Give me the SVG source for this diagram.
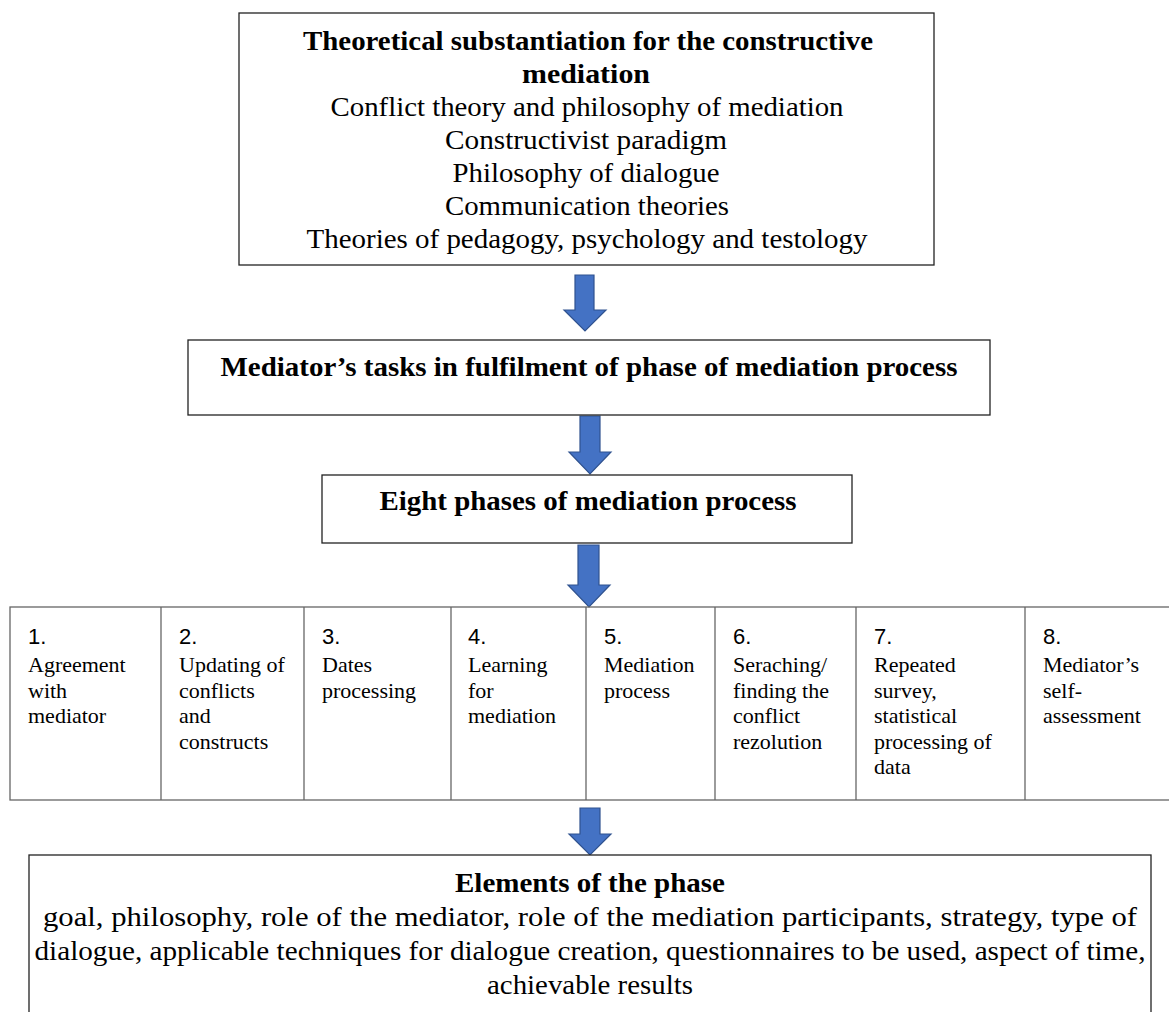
<svg xmlns="http://www.w3.org/2000/svg" width="1169" height="1012" viewBox="0 0 1169 1012">
<defs>
<style>
.box{fill:#fff;stroke:#222;stroke-width:1.3}
.cell{fill:none;stroke:#666;stroke-width:1.3}
.arrow{fill:#4472C4;stroke:#2F528F;stroke-width:1.2}
.t{font-family:"Liberation Serif","Times New Roman",serif;font-size:28px;fill:#000;text-anchor:middle}
.b{font-weight:bold}
.num{font-family:"Liberation Sans",Arial,sans-serif;font-size:22px;fill:#000}
.c{font-family:"Liberation Serif","Times New Roman",serif;font-size:22px;fill:#000}
</style>
</defs>
<rect width="1169" height="1012" fill="#fff"/>

<g id="connectors">
<path class="arrow" d="M575,275 H594 V310 H606 L585,331 L564,310 H575 Z"/>
<path class="arrow" d="M580,416 H600 V452 H611 L590,474 L569,452 H580 Z"/>
<path class="arrow" d="M578,545 H599 V585 H610 L589,607 L568,585 H578 Z"/>
<path class="arrow" d="M580,808 H600 V834 H611 L590,855 L569,834 H580 Z"/>
</g>

<g id="theory">
<rect class="box" x="239" y="13" width="695" height="252"/>
<text class="t b" x="588" y="50" textLength="570" lengthAdjust="spacingAndGlyphs">Theoretical substantiation for the constructive</text>
<text class="t b" x="586" y="83" textLength="128" lengthAdjust="spacingAndGlyphs">mediation</text>
<text class="t" x="587" y="116" textLength="513" lengthAdjust="spacingAndGlyphs">Conflict theory and philosophy of mediation</text>
<text class="t" x="586" y="149" textLength="282" lengthAdjust="spacingAndGlyphs">Constructivist paradigm</text>
<text class="t" x="586" y="182" textLength="267" lengthAdjust="spacingAndGlyphs">Philosophy of dialogue</text>
<text class="t" x="587" y="215" textLength="284" lengthAdjust="spacingAndGlyphs">Communication theories</text>
<text class="t" x="587" y="248" textLength="561" lengthAdjust="spacingAndGlyphs">Theories of pedagogy, psychology and testology</text>
</g>

<g id="tasks">
<rect class="box" x="188" y="340" width="802" height="75"/>
<text class="t b" x="589" y="376" textLength="737" lengthAdjust="spacingAndGlyphs">Mediator’s tasks in fulfilment of phase of mediation process</text>
</g>

<g id="eight">
<rect class="box" x="322" y="475" width="530" height="68"/>
<text class="t b" x="588" y="510" textLength="417" lengthAdjust="spacingAndGlyphs">Eight phases of mediation process</text>
</g>

<g id="phases">
<rect class="cell" x="10" y="607" width="1170" height="193"/>
<line class="cell" x1="161" y1="607" x2="161" y2="800"/>
<line class="cell" x1="304" y1="607" x2="304" y2="800"/>
<line class="cell" x1="451" y1="607" x2="451" y2="800"/>
<line class="cell" x1="586" y1="607" x2="586" y2="800"/>
<line class="cell" x1="715" y1="607" x2="715" y2="800"/>
<line class="cell" x1="856" y1="607" x2="856" y2="800"/>
<line class="cell" x1="1025" y1="607" x2="1025" y2="800"/>
</g>

<g id="phase1">
<text class="num" x="28" y="644">1.</text>
<text class="c" x="28" y="672">Agreement</text>
<text class="c" x="28" y="698">with</text>
<text class="c" x="28" y="723">mediator</text>
</g>
<g id="phase2">
<text class="num" x="179" y="644">2.</text>
<text class="c" x="179" y="672">Updating of</text>
<text class="c" x="179" y="698">conflicts</text>
<text class="c" x="179" y="723">and</text>
<text class="c" x="179" y="749">constructs</text>
</g>
<g id="phase3">
<text class="num" x="322" y="644">3.</text>
<text class="c" x="322" y="672">Dates</text>
<text class="c" x="322" y="698">processing</text>
</g>
<g id="phase4">
<text class="num" x="468" y="644">4.</text>
<text class="c" x="468" y="672">Learning</text>
<text class="c" x="468" y="698">for</text>
<text class="c" x="468" y="723">mediation</text>
</g>
<g id="phase5">
<text class="num" x="604" y="644">5.</text>
<text class="c" x="604" y="672">Mediation</text>
<text class="c" x="604" y="698">process</text>
</g>
<g id="phase6">
<text class="num" x="733" y="644">6.</text>
<text class="c" x="733" y="672">Seraching/</text>
<text class="c" x="733" y="698">finding the</text>
<text class="c" x="733" y="723">conflict</text>
<text class="c" x="733" y="749">rezolution</text>
</g>
<g id="phase7">
<text class="num" x="874" y="644">7.</text>
<text class="c" x="874" y="672">Repeated</text>
<text class="c" x="874" y="698">survey,</text>
<text class="c" x="874" y="723">statistical</text>
<text class="c" x="874" y="749">processing of</text>
<text class="c" x="874" y="774">data</text>
</g>
<g id="phase8">
<text class="num" x="1043" y="644">8.</text>
<text class="c" x="1043" y="672">Mediator’s</text>
<text class="c" x="1043" y="698">self-</text>
<text class="c" x="1043" y="723">assessment</text>
</g>

<g id="elements">
<rect class="box" x="29" y="855" width="1122" height="170"/>
<text class="t b" x="590" y="892" textLength="270" lengthAdjust="spacingAndGlyphs">Elements of the phase</text>
<text class="t" x="590" y="926" textLength="1094" lengthAdjust="spacingAndGlyphs">goal, philosophy, role of the mediator, role of the mediation participants, strategy, type of</text>
<text class="t" x="590" y="960" textLength="1111" lengthAdjust="spacingAndGlyphs">dialogue, applicable techniques for dialogue creation, questionnaires to be used, aspect of time,</text>
<text class="t" x="590" y="994" textLength="206" lengthAdjust="spacingAndGlyphs">achievable results</text>
</g>
</svg>
